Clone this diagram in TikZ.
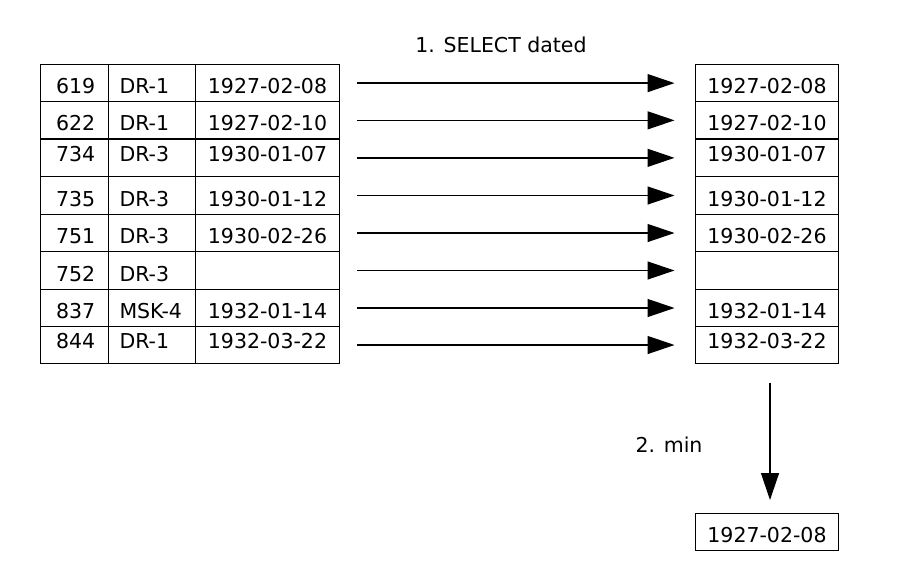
\documentclass[tikz,border=0pt]{standalone}
\usepackage{fontspec}
\setmainfont{DejaVu Sans}
\usetikzlibrary{arrows.meta}
\tikzset{
  cell/.style={draw, line width=1.3pt, inner sep=0pt, outer sep=0pt},
  txt/.style={inner sep=0pt, font=\fontsize{20.5}{24}\selectfont},
  arr/.style={line width=1.3pt, -{Triangle[length=27pt,width=18pt]}},
}
\begin{document}
\begin{tikzpicture}[x=1pt,y=-1pt]
\useasboundingbox (0,0) rectangle (909,568);
\foreach \i/\t/\b/\o/\n/\c/\d in {
  1/64.5/101.7/-2.7/619/DR-1/1927-02-08,
  2/101.7/139/-3/622/DR-1/1927-02-10,
  3/139/176.7/3.5/734/DR-3/1930-01-07,
  4/176.7/214.3/-3.6/735/DR-3/1930-01-12,
  5/214.3/251.7/-3.5/751/DR-3/1930-02-26,
  6/251.7/289.3/-3.6/752/DR-3/{},
  7/289.3/326.7/-2.8/837/MSK-4/1932-01-14,
  8/326.7/363.3/3.5/844/DR-1/1932-03-22}{
  \node[cell, minimum width=68pt, minimum height={(\b-\t)*1pt}] (a\i) at (74.7,{(\t+\b)/2}) {};
  \node[cell, minimum width=87pt, minimum height={(\b-\t)*1pt}] (b\i) at (152.2,{(\t+\b)/2}) {};
  \node[cell, minimum width=143.6pt, minimum height={(\b-\t)*1pt}] (c\i) at (267.5,{(\t+\b)/2}) {};
  \node[cell, minimum width=143pt, minimum height={(\b-\t)*1pt}] (d\i) at (767,{(\t+\b)/2}) {};
  \node[txt] (ta\i) at ([xshift=1pt,yshift=\o pt]a\i.center) {\n};
  \node[txt, anchor=west] (tb\i) at ([xshift=10.6pt,yshift=\o pt]b\i.west) {\c};
  \node[txt] (tc\i) at ([yshift=\o pt]c\i.center) {\d};
  \node[txt] (td\i) at ([yshift=\o pt]d\i.center) {\d};
  \draw[arr] ([xshift=18pt]c\i.east) -- ([xshift=-21pt]d\i.west);
}
\node[txt] (sel) at (501,44.5) {1. SELECT dated};
\node[cell, minimum width=143pt, minimum height=37.4pt] (res) at (767,532) {};
\node[txt] (rest) at ([yshift=-3pt]res.center) {1927-02-08};
\draw[arr] ([xshift=3pt,yshift=-19.4pt]d8.south) -- ([xshift=3pt,yshift=13.3pt]res.north);
\node[txt] (mn) at (669,444.5) {2. min};
\end{tikzpicture}
\end{document}
